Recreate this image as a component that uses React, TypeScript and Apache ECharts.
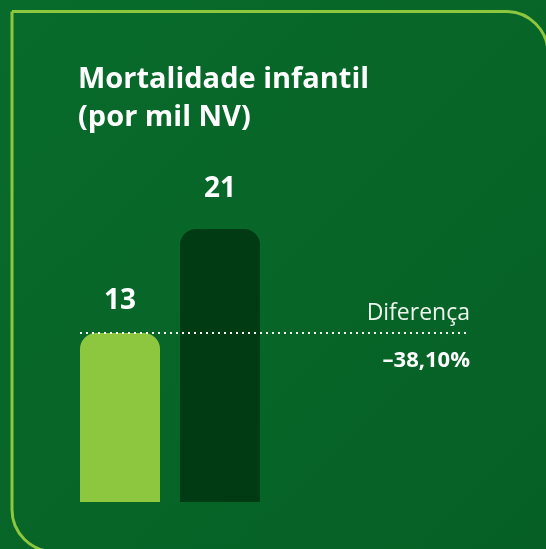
import React, { useEffect, useRef } from "react";
import * as echarts from "echarts";

const titleLines = ["Mortalidade infantil", "(por mil NV)"];
const categories = ["Atual", "Anterior"];
const values = [13, 21];
const barColors = ["#8dc63f", "#003b14"];
const labelGaps = [21, 29];
const diffLabel = "Diferença";
const yMax = 30;

function formatDiff(a: number, b: number): string {
  const pct = ((a - b) / b) * 100;
  const s = Math.abs(pct).toFixed(2).replace(".", ",");
  return (pct < 0 ? "\u2013" : "+") + s + "%";
}

export default function App() {
  const ref = useRef<HTMLDivElement>(null);
  useEffect(() => {
    document.body.style.margin = "0";
    const chart = echarts.init(ref.current!, null, { renderer: "svg" });
    const font = "'Open Sans', 'Noto Sans', sans-serif";
    chart.setOption({
      animation: false,
      grid: [
        { left: 70, width: 200, top: 112, bottom: 47 },
        { left: 80, width: 390, top: 112, bottom: 47 },
      ],
      xAxis: [
        { type: "category", gridIndex: 0, data: categories, show: false },
        { type: "category", gridIndex: 1, data: [""], show: false },
      ],
      yAxis: [
        { type: "value", gridIndex: 0, min: 0, max: yMax, show: false, splitLine: { show: false } },
        { type: "value", gridIndex: 1, min: 0, max: yMax, show: false, splitLine: { show: false } },
      ],
      graphic: [
        {
          type: "rect",
          z: -10,
          silent: true,
          shape: { x: 0, y: 0, width: 546, height: 549 },
          style: {
            fill: new echarts.graphic.LinearGradient(0, 0, 1, 1, [
              { offset: 0, color: "#086b2b" },
              { offset: 1, color: "#066025" },
            ]),
          },
        },
        {
          type: "rect",
          z: -9,
          silent: true,
          shape: { x: 12, y: 11.5, width: 536, height: 540, r: [0, 42, 0, 42] },
          style: { fill: "none", stroke: "#8dc63f", lineWidth: 3 },
        },
        {
          type: "text",
          left: 78,
          top: 57,
          style: {
            text: titleLines.join("\n"),
            fill: "#ffffff",
            font: `bold 29px ${font}`,
            lineHeight: 38,
          },
        },
        {
          type: "text",
          x: 470,
          y: 311,
          style: {
            text: diffLabel,
            fill: "#eef5ee",
            font: `normal 23px ${font}`,
            align: "right",
            verticalAlign: "middle",
          },
        },
        {
          type: "text",
          x: 470,
          y: 358,
          style: {
            text: formatDiff(values[0], values[1]),
            fill: "#ffffff",
            font: `bold 22px ${font}`,
            align: "right",
            verticalAlign: "middle",
          },
        },
      ],
      series: [
        {
          type: "bar",
          xAxisIndex: 0,
          yAxisIndex: 0,
          barWidth: 80,
          data: values.map((v, i) => ({
            value: v,
            itemStyle: { color: barColors[i] },
            label: { distance: labelGaps[i] },
          })),
          itemStyle: { borderRadius: [16, 16, 0, 0] },
          label: {
            show: true,
            position: "top",
            color: "#ffffff",
            fontFamily: font,
            fontWeight: "bold",
            fontSize: 28,
          },
          z: 2,
        },
        {
          type: "line",
          xAxisIndex: 1,
          yAxisIndex: 1,
          data: ["-"],
          symbol: "none",
          silent: true,
          z: 3,
          markLine: {
            silent: true,
            symbol: "none",
            label: { show: false },
            lineStyle: { color: "#ffffff", width: 2, type: [2, 4], opacity: 0.95 },
            data: [{ yAxis: values[0] }],
          },
        },
      ],
    });
    return () => chart.dispose();
  }, []);
  return <div ref={ref} style={{ position: "fixed", left: 0, top: 0, width: 546, height: 549 }} />;
}
